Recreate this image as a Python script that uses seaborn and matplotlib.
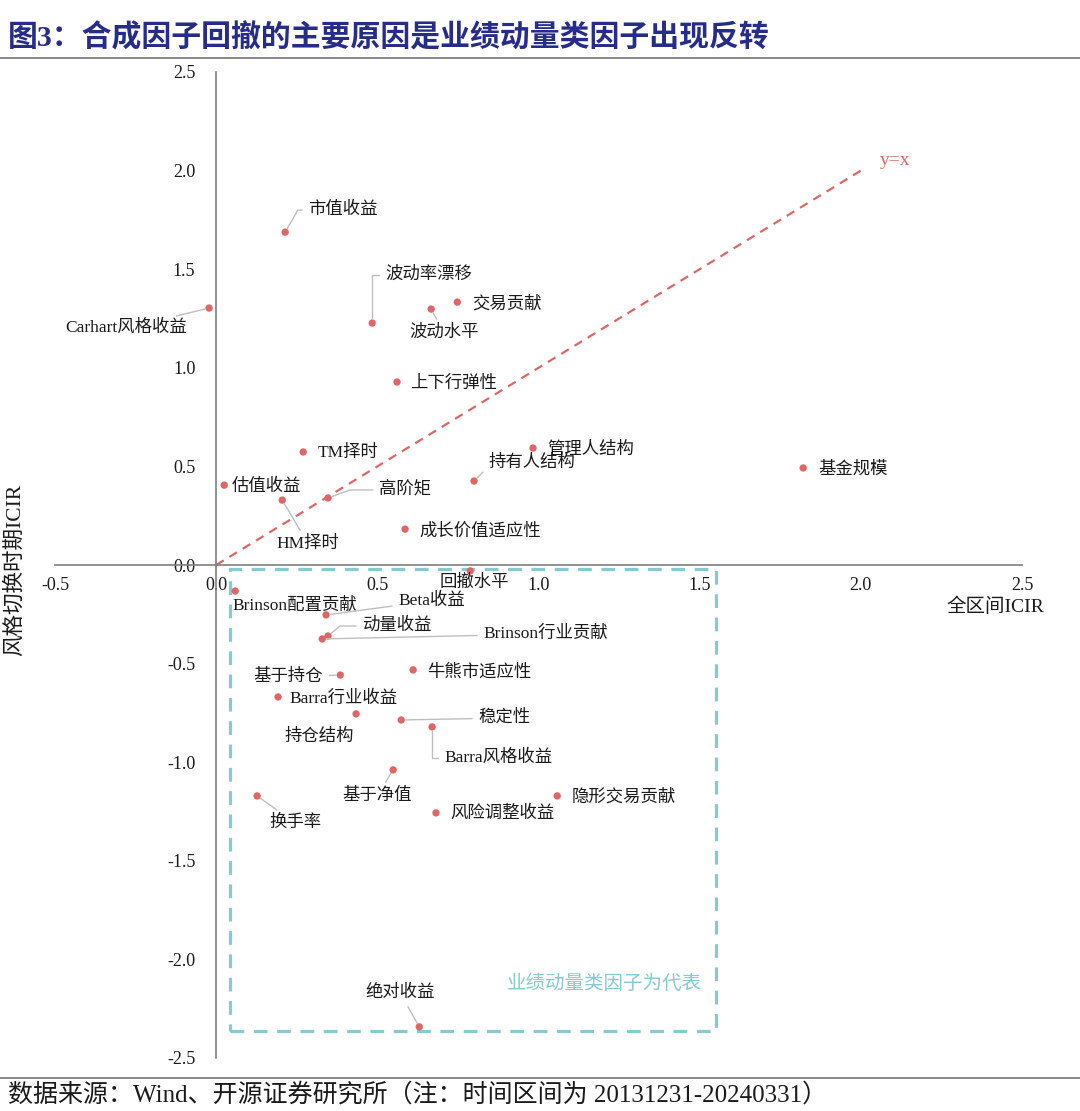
import matplotlib
matplotlib.use('Agg')
from matplotlib import pyplot as plt
from matplotlib.lines import Line2D
from matplotlib.patches import Rectangle
import seaborn as sns
import pandas as pd

# 因子名称
names = ['市值收益', 'Carhart风格收益', '波动率漂移', '波动水平', '交易贡献', '上下行弹性',
         'TM择时', '估值收益', 'HM择时', '高阶矩', '成长价值适应性', '持有人结构',
         '管理人结构', '基金规模', '回撤水平', 'Brinson配置贡献', 'Beta收益', '动量收益',
         'Brinson行业贡献', '基于持仓', '牛熊市适应性', 'Barra行业收益', '持仓结构', '稳定性',
         'Barra风格收益', '基于净值', '换手率', '风险调整收益', '隐形交易贡献', '绝对收益']
# 全区间ICIR
full_icir = [0.214, -0.022, 0.484, 0.667, 0.748, 0.561,
             0.270, 0.025, 0.205, 0.347, 0.586, 0.800,
             0.983, 1.821, 0.788, 0.059, 0.341, 0.347,
             0.329, 0.385, 0.611, 0.192, 0.434, 0.574,
             0.670, 0.549, 0.127, 0.682, 1.058, 0.630]
# 风格切换时期ICIR
switch_icir = [1.688, 1.303, 1.227, 1.298, 1.333, 0.928,
               0.573, 0.405, 0.329, 0.340, 0.182, 0.426,
               0.593, 0.492, -0.030, -0.132, -0.253, -0.360,
               -0.375, -0.558, -0.532, -0.669, -0.755, -0.786,
               -0.821, -1.039, -1.171, -1.257, -1.171, -2.342]

x_ticks = [-0.5, 0.0, 0.5, 1.0, 1.5, 2.0, 2.5]
y_ticks = [-2.5, -2.0, -1.5, -1.0, -0.5, 0.0, 0.5, 1.0, 1.5, 2.0, 2.5]

# 标签摆放 (像素偏移, 对齐, 是否引线, 连线样式)
label_pos = {
    '市值收益': (23, 22, 'left', True, 'angle,angleA=0,angleB=60,rad=0'),
    'Carhart风格收益': (-22, -20, 'right', True, None),
    '波动率漂移': (13, 48, 'left', True, 'angle,angleA=0,angleB=90,rad=0'),
    '波动水平': (13, -24, 'center', True, None),
    '交易贡献': (15, -2, 'left', False, None),
    '上下行弹性': (13, -2, 'left', False, None),
    'TM择时': (14, -1, 'left', False, None),
    '估值收益': (7, -2, 'left', False, None),
    'HM择时': (26, -44, 'center', True, None),
    '高阶矩': (51, 8, 'left', True, 'angle,angleA=0,angleB=20,rad=0'),
    '成长价值适应性': (14, -2, 'left', False, None),
    '持有人结构': (14, 18, 'left', True, 'angle,angleA=0,angleB=45,rad=0'),
    '管理人结构': (14, -2, 'left', False, None),
    '基金规模': (15, -2, 'left', False, None),
    '回撤水平': (4, -12, 'center', False, None),
    'Brinson配置贡献': (-3, -15, 'left', False, None),
    'Beta收益': (72, 14, 'left', True, None),
    '动量收益': (34, 10, 'left', True, 'angle,angleA=0,angleB=40,rad=0'),
    'Brinson行业贡献': (161, 5, 'left', True, None),
    '基于持仓': (-17, -2, 'right', True, None),
    '牛熊市适应性': (14, -3, 'left', False, None),
    'Barra行业收益': (11, -2, 'left', False, None),
    '持仓结构': (-37, -23, 'center', False, None),
    '稳定性': (77, 2, 'left', True, None),
    'Barra风格收益': (12, -31, 'left', True, 'angle,angleA=0,angleB=90,rad=0'),
    '基于净值': (-16, -26, 'center', True, None),
    '换手率': (38, -27, 'center', True, None),
    '风险调整收益': (14, -1, 'left', False, None),
    '隐形交易贡献': (14, -2, 'left', False, None),
    '绝对收益': (-19, 34, 'center', True, None),
}

sns.set_style('white')
fonts = ['Liberation Serif', 'Noto Sans CJK SC', 'DejaVu Sans']
plt.rcParams['font.family'] = fonts
plt.rcParams['axes.unicode_minus'] = False

data = pd.DataFrame({'name': names, 'x': full_icir, 'y': switch_icir})

fig = plt.figure(figsize=(10.8, 11.11), dpi=100)
ax = fig.add_axes([55 / 1080, 1 - 1058 / 1111, (1022 - 55) / 1080, (1058 - 72) / 1111])

red = '#E06666'
teal = '#86CBD1'

# y=x 参考线
ax.plot([0, 2.0], [0, 2.0], color=red, lw=1.6, ls=(0, (4, 3)), zorder=1)
ax.text(2.06, 2.05, 'y=x', color=red, fontsize=14, va='center', ha='left')

# 业绩动量类因子框
ax.add_patch(Rectangle((0.043, -2.362), 1.508, 2.342, fill=False, ec=teal,
                       lw=2.3, ls=(0, (4.3, 3)), zorder=1))
ax.text(1.203, -2.124, '业绩动量类因子为代表', color=teal, fontsize=14,
        ha='center', va='center')

sns.scatterplot(data=data, x='x', y='y', color=red, s=28, edgecolor='none',
                ax=ax, zorder=3)

for n, xv, yv in zip(names, full_icir, switch_icir):
    dx, dy, ha, lead, cs = label_pos[n]
    kw = {}
    if lead:
        props = dict(arrowstyle='-', color='#BFBFBF', lw=1.0, shrinkA=2, shrinkB=3)
        if cs:
            props['connectionstyle'] = cs
        kw['arrowprops'] = props
    ax.annotate(n, (xv, yv), xytext=(dx, dy), textcoords='offset pixels',
                ha=ha, va='center', fontsize=12.5, color='#1a1a1a', **kw)

for s in ['top', 'right']:
    ax.spines[s].set_visible(False)
ax.spines['left'].set_position(('data', 0))
ax.spines['bottom'].set_position(('data', 0))
for s in ['left', 'bottom']:
    ax.spines[s].set_color('#7f7f7f')
    ax.spines[s].set_linewidth(1.2)

ax.set_xlim(-0.5, 2.5)
ax.set_ylim(-2.5, 2.5)
ax.set_xticks(x_ticks)
ax.set_yticks(y_ticks)
ax.set_xticklabels([f'{v:.1f}' for v in x_ticks])
ax.set_yticklabels([f'{v:.1f}' for v in y_ticks])
ax.tick_params(axis='x', length=0, pad=9, labelsize=13, labelcolor='#1a1a1a')
ax.tick_params(axis='y', length=0, pad=15, labelsize=13, labelcolor='#1a1a1a')
ax.set_xlabel('')
ax.set_ylabel('')

ax.text(2.416, -0.213, '全区间ICIR', fontsize=14, ha='center', va='center', color='#1a1a1a')
fig.text(15 / 1080, 1 - 570 / 1111, '风格切换时期ICIR', rotation=90, fontsize=15.5,
         ha='center', va='center', color='#1a1a1a')

# 标题与来源
fig.text(8 / 1080, 1 - 38 / 1111, '图3：合成因子回撤的主要原因是业绩动量类因子出现反转',
         fontsize=21.5, fontweight='bold', color='#262C8A', ha='left', va='center')
fig.add_artist(Line2D([0, 1], [1 - 58 / 1111] * 2, color='#7f7f7f', lw=1.3))
fig.add_artist(Line2D([0, 1], [1 - 1078 / 1111] * 2, color='#7f7f7f', lw=1.3))
fig.text(8 / 1080, 1 - 1095 / 1111,
         '数据来源：Wind、开源证券研究所（注：时间区间为 20131231-20240331）',
         fontsize=18, color='#1a1a1a', ha='left', va='center')

fig.savefig('out.png', dpi=100)
